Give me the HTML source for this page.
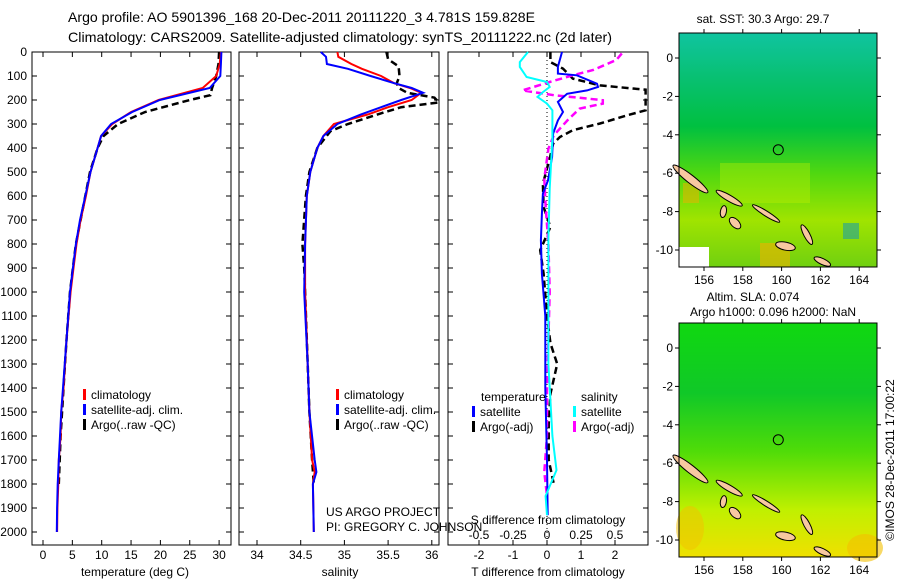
<!DOCTYPE html>
<html><head><meta charset="utf-8"><style>
body{margin:0;background:#fff;}
svg{display:block;font-family:"Liberation Sans",sans-serif;}
</style></head><body>
<svg id="chart" width="900" height="580" viewBox="0 0 900 580">
<defs>
<linearGradient id="g1" x1="0" y1="0" x2="0" y2="1">
<stop offset="0" stop-color="#10c4a0"/><stop offset="0.2" stop-color="#08c070"/><stop offset="0.4" stop-color="#00c040"/><stop offset="0.6" stop-color="#50d810"/><stop offset="0.8" stop-color="#a0e400"/><stop offset="1" stop-color="#70d010"/></linearGradient>
<linearGradient id="g2" x1="0" y1="0" x2="0" y2="1">
<stop offset="0" stop-color="#10d810"/><stop offset="0.3" stop-color="#10c828"/><stop offset="0.55" stop-color="#50dc08"/><stop offset="0.8" stop-color="#c0f000"/><stop offset="1" stop-color="#f0e000"/></linearGradient>
</defs>
<text x="68" y="22" font-size="14" textLength="467" lengthAdjust="spacingAndGlyphs">Argo profile: AO 5901396_168 20-Dec-2011 20111220_3 4.781S 159.828E</text>
<text x="68" y="42" font-size="14" textLength="544" lengthAdjust="spacingAndGlyphs">Climatology: CARS2009. Satellite-adjusted climatology: synTS_20111222.nc (2d later)</text>
<g id="p1"></g>
<g id="p2"></g>
<g id="p3"></g>
<g id="m1"></g>
<g id="m2"></g>
<text transform="translate(894,460) rotate(-90)" text-anchor="middle" font-size="12">©IMOS 28-Dec-2011 17:00:22</text>
</svg>
<script>
// ---- data ----
const depthTicks=[0,100,200,300,400,500,600,700,800,900,1000,1100,1200,1300,1400,1500,1600,1700,1800,1900,2000];
const tempTicks=[0,5,10,15,20,25,30];
const salTicks=[34,34.5,35,35.5,36];
const tdiffTicks=[-2,-1,0,1,2];
const sdiffTicks=[-0.5,-0.25,0,0.25,0.5];
const tClimDepth=[0,50,100,150,200,250,300,350,400,500,600,700,800,900,1000,1200,1400,1500,1600,1700,1800,1900,2000];
const tClim=[30.3,30.1,29.5,27.2,19.7,15,11.8,9.9,9.3,8.1,7.3,6.4,5.7,5.2,4.7,4.0,3.5,3.1,3.0,2.7,2.6,2.45,2.4];
const tSat=[30.4,30.3,30.2,28.4,19.9,15.2,11.6,9.9,9.3,8.1,7.2,6.3,5.6,5.1,4.6,4.0,3.4,3.1,2.9,2.7,2.5,2.4,2.35];
const tArgoDepth=[0,50,100,150,180,200,250,300,350,400,500,600,700,800,900,1000,1200,1400,1600,1800];
const tArgo=[30.0,29.9,29.5,28.8,28.5,25,17.4,12.8,10.3,9.3,8.0,7.2,6.4,5.6,5.1,4.6,4.0,3.5,3.0,2.7];
const sDepth=[0,20,50,70,100,130,150,170,200,230,260,300,350,400,500,600,800,1000,1300,1500,1700,1750,1800,2000];
const sClim=[34.92,34.93,35.08,35.2,35.42,35.57,35.75,35.88,35.77,35.5,35.27,34.88,34.76,34.69,34.61,34.57,34.55,34.55,34.58,34.6,34.63,34.66,34.64,34.65];
const sSat=[34.73,34.79,34.8,35.04,35.3,35.57,35.77,35.9,35.65,35.42,35.19,34.92,34.76,34.69,34.61,34.57,34.55,34.54,34.58,34.6,34.66,34.68,34.64,34.65];
const sArgoDepth=[0,30,60,100,130,150,170,190,210,230,260,300,330,400,500,600,800,900,1000,1300,1500,1700,1800];
const sArgo=[35.48,35.5,35.62,35.63,35.6,35.62,35.72,36.03,36.08,35.65,35.38,35.04,34.84,34.69,34.6,34.56,34.52,34.54,34.55,34.58,34.6,34.63,34.65];
const dtSatDepth=[0,62,90,97,132,146,160,174,208,250,285,340,437,535,590,674,785,924,1100,1400,1700,1930];
const dtSat=[0.44,0.32,0.32,0.88,1.47,1.5,1.18,0.59,0.32,0.47,0.32,0.18,0.15,0.03,-0.12,-0.15,-0.18,-0.15,-0.05,-0.05,0.0,0.02];
const dtArgoDepth=[0,42,69,111,139,157,243,264,298,326,354,382,437,549,646,729,826,924,1100,1213,1300,1425,1550,1700,1800];
const dtArgo=[0.1,0.1,0.47,0.76,1.56,2.9,2.9,2.35,1.56,0.76,0.38,0.18,0.09,-0.12,-0.1,0.1,-0.2,-0.1,0.0,0.1,0.3,0.1,0.05,0.05,0.2];
const dsSatDepth=[0,42,62,104,125,146,167,187,215,243,361,569,778,917,1300,1600,1742,1850,1930];
const dsSat=[-0.14,-0.2,-0.2,-0.15,0,0.02,-0.03,-0.07,0,0.04,0.04,0.02,0.01,0.01,0.01,0.04,0.07,-0.01,0.0];
const dsArgoDepth=[6,33,75,97,125,160,180,191,201,215,236,285,347,403,528,639,800,1000,1400,1600,1750,1850];
const dsArgo=[0.55,0.51,0.34,0.19,0.02,-0.18,0.05,0.24,0.41,0.41,0.24,0.15,0.05,0.01,-0.02,-0.01,0.01,0.02,0.0,0.0,-0.02,0.0];
const lonTicks=[156,158,160,162,164];
const latTicks=[0,-2,-4,-6,-8,-10];
const argoLon=159.83, argoLat=-4.78;

// ---- helpers ----
const NS='http://www.w3.org/2000/svg';
function mk(parent,tag,attrs,text){const e=document.createElementNS(NS,tag);for(const k in attrs)e.setAttribute(k,attrs[k]);if(text!==undefined)e.textContent=text;parent.appendChild(e);return e;}
const Y=d=>52+d*0.24;
const xT=t=>43+t*5.87;
const xS=s=>257+(s-34)*87.4;
const xDT=v=>547+v*34;
const xDS=v=>547+v*136;

function frame(g,x0,x1,name){
  const r=mk(g,'rect',{x:x0,y:52,width:x1-x0,height:493,fill:'none',stroke:'#000','stroke-width':1});
  
  
  depthTicks.forEach(d=>{
    mk(g,'line',{x1:x0,x2:x0+5,y1:Y(d),y2:Y(d),stroke:'#000'});
    mk(g,'line',{x1:x1,x2:x1-5,y1:Y(d),y2:Y(d),stroke:'#000'});
  });
}
function xticks(g,ticks,fx,labelY,x0,x1){
  ticks.forEach(t=>{const x=fx(t);if(x<x0||x>x1)return;
    mk(g,'line',{x1:x,x2:x,y1:545,y2:540,stroke:'#000'});
    mk(g,'line',{x1:x,x2:x,y1:52,y2:57,stroke:'#000'});
    const l=mk(g,'text',{x:x,y:labelY,'font-size':12,'text-anchor':'middle'},String(t));
    
    
  });
}
function line(g,depths,vals,fx,color,dash,w,name){
  const pts=depths.map((d,i)=>fx(vals[i]).toFixed(1)+','+Y(d).toFixed(1)).join(' ');
  const p=mk(g,'polyline',{points:pts,fill:'none',stroke:color,'stroke-width':w||2,'stroke-dasharray':dash||'none'});
  
  
}
function legend(g,x,y,color,label){
  mk(g,'rect',{x:x,y:y-9,width:3,height:11,fill:color});
  const t=mk(g,'text',{x:x+8,y:y+1,'font-size':12},label);
  
  
}

// panel 1
const p1=document.getElementById('p1');
frame(p1,32,231,'temperature');
depthTicks.forEach(d=>{
  const t=mk(p1,'text',{x:27,y:Y(d)+4,'font-size':12,'text-anchor':'end'},String(d));
  
  
});
xticks(p1,tempTicks,xT,559,32,231);
const xl1=mk(p1,'text',{x:135,y:576,'font-size':12,'text-anchor':'middle'},'temperature (deg C)');


line(p1,tArgoDepth,tArgo,xT,'#000','7,4',2.5,'argo-temperature-line');
line(p1,tClimDepth,tClim,xT,'#f00','',2,'climatology-temperature-line');
line(p1,tClimDepth,tSat,xT,'#00f','',2,'satellite-temperature-line');
legend(p1,83,398,'#f00','climatology');
legend(p1,83,413,'#00f','satellite-adj. clim.');
legend(p1,83,428,'#000','Argo(..raw -QC)');

// panel 2
const p2=document.getElementById('p2');
frame(p2,239,439,'salinity');
xticks(p2,salTicks,xS,559,239,439);
const xl2=mk(p2,'text',{x:340,y:576,'font-size':12,'text-anchor':'middle'},'salinity');


line(p2,sArgoDepth,sArgo,xS,'#000','7,4',2.5,'argo-salinity-line');
line(p2,sDepth,sClim,xS,'#f00','',2,'climatology-salinity-line');
line(p2,sDepth,sSat,xS,'#00f','',2,'satellite-salinity-line');
legend(p2,336,398,'#f00','climatology');
legend(p2,336,413,'#00f','satellite-adj. clim.');
legend(p2,336,428,'#000','Argo(..raw -QC)');
const us1=mk(p2,'text',{x:326,y:516,'font-size':12},'US ARGO PROJECT');


const us2=mk(p2,'text',{x:326,y:531,'font-size':12},'PI: GREGORY C. JOHNSON');



// panel 3
const p3=document.getElementById('p3');
frame(p3,448,648,'difference');
mk(p3,'line',{x1:547,x2:547,y1:52,y2:545,stroke:'#000','stroke-dasharray':'1,3'});
xticks(p3,tdiffTicks,xDT,559,448,648);
sdiffTicks.forEach(v=>{
  const t=mk(p3,'text',{x:xDS(v),y:539,'font-size':12,'text-anchor':'middle'},String(v));
  
  
});
const sl=mk(p3,'text',{x:548,y:524,'font-size':12,'text-anchor':'middle'},'S difference from climatology');


const tl=mk(p3,'text',{x:548,y:576,'font-size':12,'text-anchor':'middle'},'T difference from climatology');


line(p3,dtArgoDepth,dtArgo.map(v=>Math.min(v,2.9)),xDT,'#000','7,4',2.5,'argo-t-diff-line');
line(p3,dsArgoDepth,dsArgo,xDS,'#f0f','7,4',2.5,'argo-s-diff-line');
line(p3,dtSatDepth,dtSat,xDT,'#00f','',2,'satellite-t-diff-line');
line(p3,dsSatDepth,dsSat,xDS,'#0ff','',2,'satellite-s-diff-line');
const lt=mk(p3,'text',{x:481,y:401,'font-size':12},'temperature');


const ls=mk(p3,'text',{x:581,y:401,'font-size':12},'salinity');


legend(p3,472,415,'#00f','satellite');
legend(p3,472,430,'#000','Argo(-adj)');
legend(p3,573,415,'#0ff','satellite');
legend(p3,573,430,'#f0f','Argo(-adj)');

// maps
function map(id,y0,grad,titles,name){
  const g=document.getElementById(id);
  const X0=679,X1=877,H=234;
  const lx=lon=>704+(lon-156)*19.4;
  const ly=lat=>y0+25-lat*19.2;
  const bg=mk(g,'rect',{x:X0,y:y0,width:X1-X0,height:H,fill:'url(#'+grad+')'});
  
  
  if(grad==='g1'){
    mk(g,'rect',{x:X0,y:y0+H-20,width:30,height:20,fill:'#fff'});
    mk(g,'rect',{x:843,y:y0+190,width:16,height:16,fill:'#20a0a0',opacity:0.6});
    mk(g,'rect',{x:760,y:y0+210,width:30,height:24,fill:'#f0b000',opacity:0.6});
    mk(g,'rect',{x:683,y:y0+150,width:16,height:20,fill:'#f0b000',opacity:0.5});
    mk(g,'rect',{x:720,y:y0+130,width:90,height:40,fill:'#c8f000',opacity:0.35});
  }else{
    mk(g,'ellipse',{cx:690,cy:y0+205,rx:14,ry:22,fill:'#f4c000',opacity:0.5});
    mk(g,'ellipse',{cx:865,cy:y0+225,rx:18,ry:14,fill:'#f4c000',opacity:0.6});
  }
  const isl=[[155.3,-6.3,22,4,38],[157.3,-7.3,15,3,30],[159.2,-8.1,16,2.5,32],[157.6,-8.6,7,4,45],[160.2,-9.8,10,4,12],[161.3,-9.2,11,3,62],[162.1,-10.6,9,3,25],[157.0,-8.0,3,6,10]];
  isl.forEach(s=>{
    const e=mk(g,'ellipse',{cx:lx(s[0]),cy:ly(s[1]),rx:s[2],ry:s[3],fill:'#f8c8a0',stroke:'#000','stroke-width':1,transform:'rotate('+s[4]+' '+lx(s[0])+' '+ly(s[1])+')'});
    
    
  });
  const c=mk(g,'circle',{cx:lx(argoLon),cy:ly(argoLat),r:5,fill:'none',stroke:'#000'});
  
  
  mk(g,'rect',{x:X0,y:y0,width:X1-X0,height:H,fill:'none',stroke:'#000'});
  lonTicks.forEach(l=>{const x=lx(l);
    mk(g,'line',{x1:x,x2:x,y1:y0,y2:y0-4,stroke:'#000'});
    mk(g,'line',{x1:x,x2:x,y1:y0+H,y2:y0+H+4,stroke:'#000'});
    const t=mk(g,'text',{x:x,y:y0+H+17,'font-size':12,'text-anchor':'middle'},String(l));
    
    
  });
  latTicks.forEach(l=>{const y=ly(l);
    mk(g,'line',{x1:X0,x2:X0-4,y1:y,y2:y,stroke:'#000'});
    mk(g,'line',{x1:X1,x2:X1+4,y1:y,y2:y,stroke:'#000'});
    const t=mk(g,'text',{x:673,y:y+4,'font-size':12,'text-anchor':'end'},String(l));
    
    
  });
  titles.forEach(tt=>{
    const t=mk(g,'text',{x:tt[0],y:tt[1],'font-size':12,'text-anchor':'middle'},tt[2]);
    
    
  });
}
map('m1',33,'g1',[[763,23,'sat. SST: 30.3 Argo: 29.7']],'sst-map');
map('m2',323,'g2',[[753,301,'Altim. SLA: 0.074'],[773,316,'Argo h1000: 0.096 h2000: NaN']],'sla-map');
</script>
</body></html>
